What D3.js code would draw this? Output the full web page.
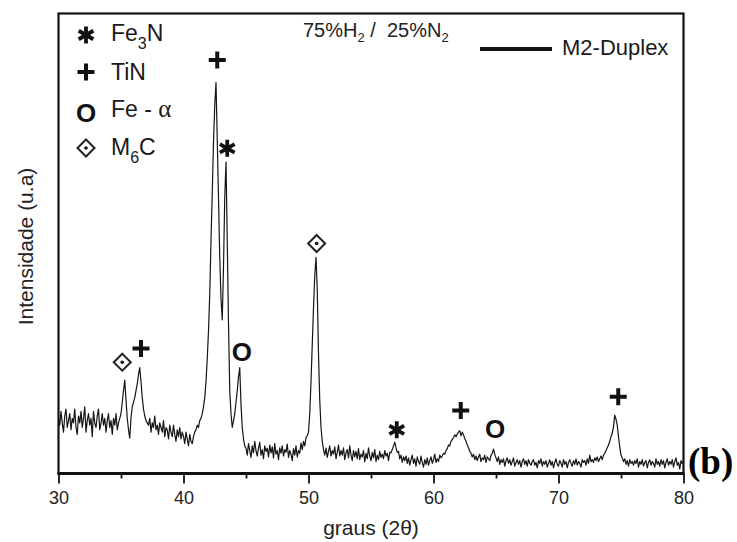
<!DOCTYPE html>
<html>
<head>
<meta charset="utf-8">
<script src="https://cdn.jsdelivr.net/npm/d3@7"></script>
<style>
  html, body { margin: 0; padding: 0; background: #fff; }
  svg { display: block; font-family: "Liberation Sans", Arial, sans-serif; }
</style>
</head>
<body>
<div id="chart"></div>
<script>
// ---- data ----
const twoThetaStart = 30;   // degrees
const twoThetaStep = 0.1;   // degrees between samples
const intensity = [
  // 30.0 - 30.9
  12, 10.5, 13.5, 11, 9, 12.5, 14, 10, 11.5, 13,
  // 31
  9.5, 12, 11, 14, 10, 8.5, 12.5, 11, 13.5, 10,
  // 32
  12, 14.5, 9, 11.5, 13, 10.5, 12, 8, 13.5, 11,
  // 33
  10, 12.5, 14, 9.5, 11, 13, 10.5, 12, 9, 11.5,
  // 34
  13, 10, 11.5, 8.5, 12, 10.5, 13, 9.5, 11, 12,
  // 35
  13, 15.5, 18, 20.3, 16, 12, 9.5, 7.7, 12, 14.5,
  // 36
  15.5, 16.5, 18, 19.5, 21.5, 23, 20, 16.5, 14, 12.5,
  // 37
  11.5, 11, 10.5, 12, 9, 11, 10, 12.5, 9.5, 10.5,
  // 38
  8.5, 11, 10, 9, 11.5, 8, 10, 9.5, 7.5, 10.5,
  // 39
  9, 8, 10.5, 8.5, 7, 9.5, 8, 10, 7.5, 9,
  // 40
  8, 6.5, 9, 7.5, 6, 8.5, 7, 6.5, 8, 9,
  // 41
  9.5, 10.5, 10, 11.5, 12, 13, 14.5, 16.5, 20, 25,
  // 42
  31, 39, 50.7, 61, 72, 80, 85, 72.5, 60, 47,
  // 43
  38, 33.4, 45, 60, 67.7, 50.7, 32.7, 18, 13, 10,
  // 44
  11.5, 13, 15.5, 18, 21, 23, 15, 10, 7.5, 6,
  // 45
  5.5, 4, 6.5, 5, 3.5, 6, 4.5, 7, 5, 3.8,
  // 46
  5.5, 6.8, 4, 5.2, 3.2, 6, 4.8, 5.5, 3.6, 6.2,
  // 47
  4.5, 5.8, 3.4, 6.5, 4.2, 5, 3, 5.6, 4.4, 6,
  // 48
  3.8, 5.2, 4.6, 6.4, 3.5, 5, 4.2, 2.8, 5.4, 4,
  // 49
  6, 3.6, 5, 4.4, 6.6, 5.2, 7, 6, 7.8, 8.2,
  // 50
  9, 13, 20, 28, 36, 43, 47, 40, 26, 16,
  // 51
  10, 7, 5.2, 4, 5.5, 3.5, 4.8, 6, 3.8, 5,
  // 52
  4.2, 5.8, 3.2, 4.6, 6.2, 3.8, 5, 4, 5.6, 3,
  // 53
  4.5, 5.2, 3.4, 6, 4, 2.8, 5, 3.6, 4.8, 3.2,
  // 54
  5.4, 3, 4.2, 3.6, 5, 2.5, 4.4, 3.2, 5.6, 3.8,
  // 55
  2.8, 4.6, 3.4, 5.2, 2.6, 4, 3, 4.8, 3.5, 4.2,
  // 56
  3.2, 5, 3.8, 4.4, 2.8, 4.6, 4.5, 5.2, 6, 6.8,
  // 57
  5.6, 4.6, 4.8, 3.2, 4, 2.4, 3.6, 2.8, 3.8, 2.2,
  // 58
  3.4, 1.8, 3, 4, 2.2, 3.2, 1.6, 3.6, 2.6, 2,
  // 59
  3.8, 2.4, 1.4, 3, 2, 3.4, 1.8, 2.8, 3.6, 2.2,
  // 60
  3, 4.2, 2.4, 3.2, 2.6, 4, 3.4, 3.8, 4.4, 4.2,
  // 61
  5, 5.4, 6.2, 6, 7, 7.4, 7.8, 8.4, 8, 8.6,
  // 62
  9, 9.3, 8.2, 9, 8.4, 7.6, 7, 6.2, 5.6, 4.8,
  // 63
  4.4, 3.6, 4.2, 3, 3.8, 2.8, 3.6, 4.2, 2.6, 3.4,
  // 64
  3, 4, 2.4, 3.6, 3.2, 2.8, 4, 4.4, 5.3, 4.2,
  // 65
  3.4, 2.6, 3.6, 2, 3, 2.4, 3.2, 1.6, 2.8, 3.4,
  // 66
  2.2, 3, 1.8, 2.6, 3.4, 1.6, 2.4, 3, 2, 2.8,
  // 67
  1.4, 2.6, 3.2, 2, 2.8, 1.6, 3, 2.2, 1.8, 2.6,
  // 68
  3, 1.8, 2.4, 1.2, 2.8, 2.2, 3.2, 1.6, 2.6, 2,
  // 69
  2.8, 1.4, 2.2, 3, 1.8, 2.6, 1.2, 2.4, 3.2, 2,
  // 70
  1.6, 2.8, 2.2, 1.4, 3, 2, 2.6, 1.2, 2.4, 3,
  // 71
  2.2, 1.6, 2.8, 2, 3.2, 1.8, 2.6, 2.2, 1.4, 3,
  // 72
  2.4, 2.8, 1.8, 3.2, 2.2, 4, 2.6, 3, 2.4, 3.4,
  // 73
  2.8, 3.6, 2.6, 3.2, 3.8, 3, 4, 4.4, 5, 5.6,
  // 74
  6.2, 7, 8, 8.8, 10.2, 12.7, 11.8, 10.5, 8, 5.8,
  // 75
  4, 3.4, 2.6, 3.2, 2, 2.8, 1.6, 3, 2.2, 2.6,
  // 76
  1.8, 2.8, 2.2, 3.2, 1.4, 2.6, 2, 3, 1.6, 2.4,
  // 77
  2.8, 1.2, 2.4, 3, 1.8, 2.6, 2.2, 1.4, 3.2, 2,
  // 78
  2.6, 1.6, 3, 2, 2.8, 1.2, 2.4, 3.2, 1.8, 2.6,
  // 79
  2, 3, 1.4, 2.6, 3.4, 1.8, 2.4, 1, 2.8, 2.2,
  // 80
  2.6
];
const xDomain = [30, 80];
const yDomain = [0, 100];
const xMajorTicks = [30, 40, 50, 60, 70, 80];
const xMinorTicks = [35, 45, 55, 65, 75];

// peak identification marks (2θ, height where the mark sits, phase)
const peakTheta  = [35.1, 36.6, 42.7, 43.5, 44.66, 50.65, 57.06, 62.18, 64.92, 74.78];
const peakMarkY  = [24.2, 27.2, 89.9, 70.7, 26.5, 50.0, 9.5, 13.7, 9.8, 16.7];
const peakPhase  = ["M6C", "TiN", "TiN", "Fe3N", "FeA", "M6C", "Fe3N", "TiN", "FeA", "TiN"];

const legendPhases = ["Fe3N", "TiN", "FeA", "M6C"];
const seriesName = "M2-Duplex";
const atmosphereLabel = ["75%H", "2", " /  25%N", "2"];
const xLabel = "graus (2θ)";
const yLabel = "Intensidade (u.a)";
const panelLabel = "(b)";

// ---- drawing ----
const SANS = '"Liberation Sans", Arial, sans-serif';
const SERIF = '"Liberation Serif", "Times New Roman", serif';
const W = 737, H = 542;
const svg = d3.select("#chart").append("svg")
  .attr("width", W).attr("height", H)
  .attr("viewBox", `0 0 ${W} ${H}`);
svg.append("rect").attr("width", W).attr("height", H).attr("fill", "#fff");

const plotL = 58.5, plotR = 683.5, plotT = 13.5, plotB = 473.5;
const x = d3.scaleLinear().domain(xDomain).range([plotL, plotR]);
const y = d3.scaleLinear().domain(yDomain).range([plotB, plotT]);

// trace
const line = d3.line()
  .x((d, i) => x(twoThetaStart + i * twoThetaStep))
  .y(d => y(d));
svg.append("path")
  .datum(intensity)
  .attr("fill", "none")
  .attr("stroke", "#151515")
  .attr("stroke-width", 1.2)
  .attr("stroke-linejoin", "round")
  .attr("d", line);

// frame
svg.append("rect")
  .attr("x", plotL).attr("y", plotT)
  .attr("width", plotR - plotL).attr("height", plotB - plotT)
  .attr("fill", "none").attr("stroke", "#111").attr("stroke-width", 2.2);

// axis
const axMajor = d3.axisBottom(x).tickValues(xMajorTicks).tickSize(10).tickPadding(8)
  .tickFormat(d3.format("d"));
const axMinor = d3.axisBottom(x).tickValues(xMinorTicks).tickSize(5).tickFormat("");
const gMaj = svg.append("g").attr("transform", `translate(0,${plotB})`).call(axMajor);
const gMin = svg.append("g").attr("transform", `translate(0,${plotB})`).call(axMinor);
[gMaj, gMin].forEach(g => {
  g.select(".domain").remove();
  g.selectAll(".tick line").attr("stroke", "#111").attr("stroke-width", 1.8);
});
gMaj.selectAll(".tick text")
  .style("font-family", SANS)
  .attr("font-size", 18).attr("fill", "#222");
svg.append("line")
  .attr("x1", plotL - 1).attr("x2", plotR + 1)
  .attr("y1", plotB).attr("y2", plotB)
  .attr("stroke", "#111").attr("stroke-width", 2.8);

// axis titles
svg.append("text")
  .attr("x", (plotL + plotR) / 2).attr("y", 535)
  .attr("text-anchor", "middle").attr("font-size", 21).attr("fill", "#222")
  .style("font-family", SANS)
  .text(xLabel);
svg.append("text")
  .attr("transform", `translate(33,${(plotT + plotB) / 2 + 3}) rotate(-90)`)
  .attr("text-anchor", "middle").attr("font-size", 21).attr("fill", "#222")
  .style("font-family", SANS)
  .text(yLabel);

// panel label
svg.append("text")
  .attr("x", 688).attr("y", 474)
  .style("font-family", SERIF)
  .attr("font-weight", "bold").attr("font-size", 37).attr("fill", "#000")
  .text(panelLabel);

// marker shapes
function drawMarker(g, phase, cx, cy) {
  if (phase === "TiN") {
    g.append("path")
      .attr("d", `M${cx - 8.5},${cy}H${cx + 8.5}M${cx},${cy - 8.5}V${cy + 8.5}`)
      .attr("stroke", "#111").attr("stroke-width", 4).attr("fill", "none");
  } else if (phase === "Fe3N") {
    const r = 8.5;
    let d = "";
    [90, 30, 150].forEach(a => {
      const t = a * Math.PI / 180;
      d += `M${cx - r * Math.cos(t)},${cy - r * Math.sin(t)}L${cx + r * Math.cos(t)},${cy + r * Math.sin(t)}`;
    });
    g.append("path").attr("d", d)
      .attr("stroke", "#111").attr("stroke-width", 3.8).attr("fill", "none");
  } else if (phase === "FeA") {
    g.append("text")
      .attr("x", cx).attr("y", cy).attr("dy", "0.36em")
      .attr("text-anchor", "middle")
      .style("font-family", SANS)
      .attr("font-size", 26).attr("font-weight", "bold").attr("fill", "#111")
      .text("O");
  } else if (phase === "M6C") {
    const r = 8.5;
    g.append("path")
      .attr("d", `M${cx},${cy - r}L${cx + r},${cy}L${cx},${cy + r}L${cx - r},${cy}Z`)
      .attr("stroke", "#222").attr("stroke-width", 2).attr("fill", "#fff")
      .attr("stroke-linejoin", "miter");
    g.append("circle").attr("cx", cx).attr("cy", cy).attr("r", 1.8).attr("fill", "#111");
  }
}

// peak marks
const gPeaks = svg.append("g");
peakTheta.forEach((t, i) => drawMarker(gPeaks, peakPhase[i], x(t), y(peakMarkY[i])));

// legend (phases)
const gLeg = svg.append("g");
const legRowY = [35, 72, 113, 148];
const legTextBase = [41, 80, 117, 155];
legendPhases.forEach((p, i) => {
  drawMarker(gLeg, p, 86, legRowY[i]);
  const t = gLeg.append("text").attr("x", 111).attr("y", legTextBase[i])
    .style("font-family", SANS)
    .attr("font-size", 23).attr("fill", "#1a1a1a");
  if (p === "Fe3N") {
    t.append("tspan").text("Fe");
    t.append("tspan").attr("font-size", 16).attr("dy", 8).text("3");
    t.append("tspan").attr("dy", -8).text("N");
  } else if (p === "TiN") {
    t.append("tspan").text("TiN");
  } else if (p === "FeA") {
    t.append("tspan").text("Fe - ");
    t.append("tspan").style("font-family", SERIF)
      .attr("font-size", 25).text("α");
  } else if (p === "M6C") {
    t.append("tspan").text("M");
    t.append("tspan").attr("font-size", 16).attr("dy", 8).text("6");
    t.append("tspan").attr("dy", -8).text("C");
  }
});

// atmosphere label
const ta = svg.append("text").attr("x", 303).attr("y", 37)
  .style("font-family", SANS).attr("font-size", 20).attr("fill", "#222");
ta.append("tspan").text(atmosphereLabel[0]);
ta.append("tspan").attr("font-size", 13).attr("dy", 5).text(atmosphereLabel[1]);
ta.append("tspan").attr("dy", -5).style("white-space", "pre").text(atmosphereLabel[2]);
ta.append("tspan").attr("font-size", 13).attr("dy", 5).text(atmosphereLabel[3]);

// series legend
svg.append("line")
  .attr("x1", 480).attr("x2", 552).attr("y1", 49).attr("y2", 49)
  .attr("stroke", "#111").attr("stroke-width", 4);
svg.append("text").attr("x", 562).attr("y", 55)
  .style("font-family", SANS).attr("font-size", 22).attr("fill", "#1a1a1a")
  .text(seriesName);
</script>
</body>
</html>
